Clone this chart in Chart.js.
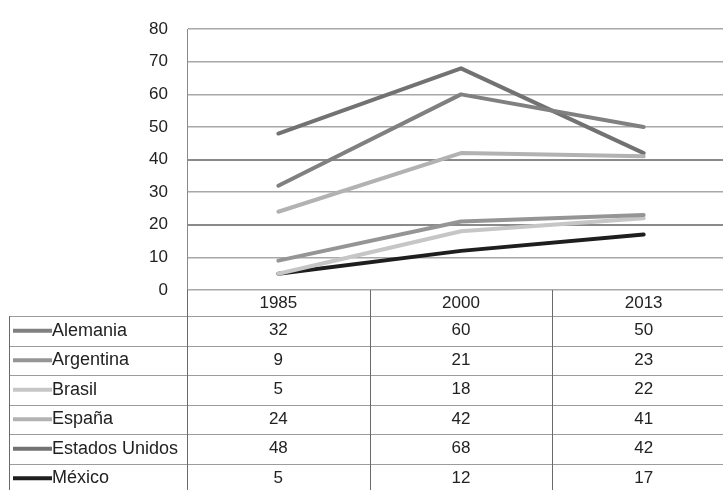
<!DOCTYPE html>
<html>
<head>
<meta charset="utf-8">
<script src="https://cdn.jsdelivr.net/npm/chart.js@4.4.1/dist/chart.umd.min.js"></script>
<style>
  html, body { margin: 0; padding: 0; background: #fff; overflow: hidden; }
  #wrap { position: absolute; left: 0; top: 0; width: 735px; height: 490px; }
</style>
</head>
<body>
<div id="wrap"><canvas id="chart" width="735" height="490"></canvas></div>
<script>
// --- Data ---
const years = ['1985', '2000', '2013'];
const yTicks = [0, 10, 20, 30, 40, 50, 60, 70, 80];

const alemania = [32, 60, 50];
const argentina = [9, 21, 23];
const brasil = [5, 18, 22];
const espana = [24, 42, 41];
const estadosUnidos = [48, 68, 42];
const mexico = [5, 12, 17];

const seriesNames = ['Alemania', 'Argentina', 'Brasil', 'España', 'Estados Unidos', 'México'];
const seriesValues = [alemania, argentina, brasil, espana, estadosUnidos, mexico];
const seriesColors = ['#808080', '#959595', '#c6c6c6', '#b2b2b2', '#727272', '#1e1e1e'];

const FONT = "'Liberation Sans', Arial, sans-serif";

// --- Data table under the plot (legend key + values per year) ---
const dataTable = {
    id: 'dataTable',
    afterDraw(chart) {
        const ctx = chart.ctx;
        const area = chart.chartArea;
        const xs = chart.scales.x;
        const right = chart.width;
        const tableLeft = 9;
        const headerTop = area.bottom;
        const bodyTop = headerTop + 26;
        const rowH = 29.5;
        const sets = chart.data.datasets;

        ctx.save();

        // horizontal rules
        ctx.strokeStyle = '#9c9c9c';
        ctx.lineWidth = 1;
        for (let i = 0; i <= sets.length; i++) {
            const y = Math.round(bodyTop + i * rowH) + 0.5;
            ctx.beginPath();
            ctx.moveTo(tableLeft, y);
            ctx.lineTo(right, y);
            ctx.stroke();
        }

        // vertical rules: table left edge, plot edge, column dividers
        ctx.strokeStyle = '#6a6a6a';
        ctx.beginPath();
        ctx.moveTo(tableLeft + 0.5, bodyTop);
        ctx.lineTo(tableLeft + 0.5, chart.height);
        ctx.moveTo(Math.round(area.left) + 0.5, headerTop);
        ctx.lineTo(Math.round(area.left) + 0.5, chart.height);
        const step = (area.right - area.left) / years.length;
        for (let i = 1; i < years.length; i++) {
            const x = Math.round(area.left + i * step) + 0.5;
            ctx.moveTo(x, headerTop);
            ctx.lineTo(x, chart.height);
        }
        ctx.stroke();

        // rows: legend key line, series name, values
        sets.forEach((ds, i) => {
            const cy = bodyTop + i * rowH + rowH / 2;

            ctx.strokeStyle = ds.borderColor;
            ctx.lineWidth = 4;
            ctx.lineCap = 'butt';
            ctx.beginPath();
            ctx.moveTo(13, cy);
            ctx.lineTo(52, cy);
            ctx.stroke();

            ctx.fillStyle = '#222';
            ctx.font = '18px ' + FONT;
            ctx.textBaseline = 'middle';
            ctx.textAlign = 'left';
            ctx.fillText(ds.label, 52, cy);

            ctx.textAlign = 'center';
            ctx.font = '17px ' + FONT;
            ds.data.forEach((v, j) => {
                ctx.fillText(String(v), xs.getPixelForValue(j), cy);
            });
        });

        ctx.restore();
    }
};

const ctx = document.getElementById('chart').getContext('2d');
new Chart(ctx, {
    type: 'line',
    data: {
        labels: years,
        datasets: seriesNames.map((name, i) => ({
            label: name,
            data: seriesValues[i],
            borderColor: seriesColors[i],
            backgroundColor: seriesColors[i],
            borderWidth: 4,
            borderJoinStyle: 'round',
            borderCapStyle: 'round',
            pointRadius: 0,
            tension: 0,
            fill: false
        }))
    },
    options: {
        responsive: false,
        animation: false,
        layout: { padding: { top: 24, right: 0, bottom: 0, left: 0 } },
        plugins: {
            legend: { display: false },
            tooltip: { enabled: false }
        },
        scales: {
            x: {
                offset: true,
                grid: { display: false, drawTicks: false },
                border: { display: false },
                ticks: {
                    color: '#222',
                    font: { family: FONT, size: 17 },
                    padding: 3,
                    maxRotation: 0
                },
                afterFit(scale) { scale.height = 200; }
            },
            y: {
                min: 0,
                max: 80,
                afterBuildTicks(scale) { scale.ticks = yTicks.map(v => ({ value: v })); },
                grid: {
                    drawTicks: false,
                    color: c => (c.tick.value === 20 || c.tick.value === 40) ? '#8a8a8a' : '#a8a8a8',
                    lineWidth: c => (c.tick.value === 20 || c.tick.value === 40) ? 2 : 1.5
                },
                border: { display: true, color: '#8a8a8a', width: 1 },
                ticks: {
                    color: '#222',
                    font: { family: FONT, size: 17 },
                    padding: 19
                },
                afterFit(scale) { scale.width = 187; }
            }
        }
    },
    plugins: [dataTable]
});
</script>
</body>
</html>
